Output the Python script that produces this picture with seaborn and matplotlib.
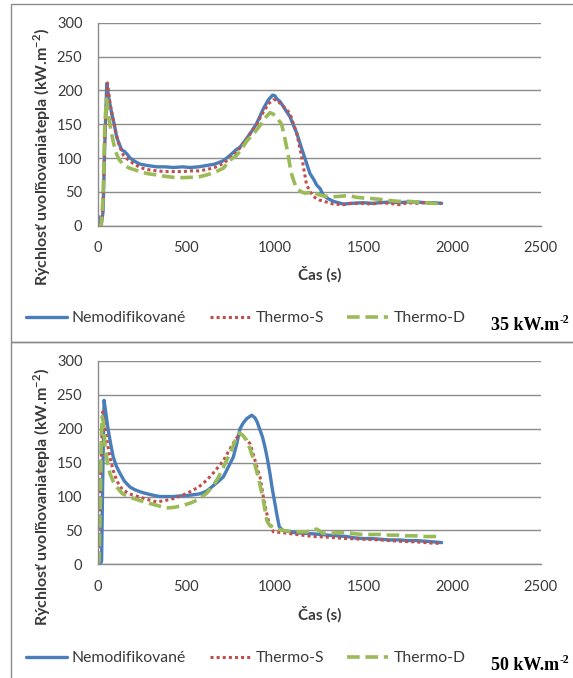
import numpy as np
import pandas as pd
import matplotlib
matplotlib.use("Agg")
import matplotlib.pyplot as plt
from matplotlib.patches import Rectangle
import seaborn as sns

# ---------------- data ----------------
series_names = ["Nemodifikované", "Thermo-S", "Thermo-D"]
panel_titles = ["35 kW.m", "50 kW.m"]
title_sup = "-2"
x_ticks = [0, 500, 1000, 1500, 2000, 2500]
y_ticks = [0, 50, 100, 150, 200, 250, 300]

# 35 kW.m-2
nemod35_t = [0, 10, 20, 30, 40, 51, 65, 79, 95, 107, 120, 135, 150, 165, 183, 210, 239, 280, 333, 380,
             427, 480, 521, 570, 615, 660, 709, 747, 780, 803, 841, 870, 897, 935, 963, 987, 1000, 1010,
             1030, 1048, 1085, 1123, 1160, 1198, 1220, 1236, 1255, 1273, 1300, 1330, 1386, 1430, 1498,
             1550, 1593, 1650, 1700, 1750, 1800, 1850, 1900, 1941]
nemod35_v = [15, 10, 2, 20, 120, 210, 185, 166, 148, 131, 122, 112, 110, 106, 100, 95, 91, 89, 87, 87,
             86, 87, 86, 87, 89, 91, 96, 104, 112, 116, 129, 140, 151, 173, 186, 193, 192, 188,
             183, 176, 161, 137, 107, 77, 68, 60, 55, 45, 40, 36, 32, 33, 34,
             33, 34, 35, 34, 35, 35, 34, 34, 33]
thermoS35_t = [0, 20, 30, 40, 55, 70, 85, 100, 120, 145, 170, 200, 239, 280, 333, 380, 427, 480, 521, 570,
               615, 660, 709, 747, 780, 803, 841, 870, 897, 935, 963, 990, 1010, 1048, 1085, 1104, 1123,
               1151, 1179, 1200, 1217, 1250, 1290, 1330, 1386, 1430, 1498, 1550, 1593, 1650, 1700, 1750,
               1800, 1850, 1900, 1941]
thermoS35_v = [5, 0, 30, 130, 211, 180, 160, 140, 120, 104, 98, 92, 86, 83, 81, 80, 80, 80, 81, 81,
               83, 86, 92, 100, 108, 115, 128, 140, 150, 168, 180, 186, 186, 176, 166, 151, 137,
               102, 60, 50, 43, 38, 35, 32, 31, 33, 33, 32, 34, 33, 31, 34,
               33, 34, 33, 33]
thermoD35_t = [0, 20, 30, 40, 50, 60, 75, 88, 100, 120, 145, 180, 239, 280, 333, 380, 427, 480, 521, 570,
               615, 660, 709, 747, 784, 803, 841, 880, 916, 954, 972, 990, 1010, 1038, 1057, 1076, 1090,
               1104, 1118, 1132, 1150, 1170, 1195, 1217, 1245, 1273, 1310, 1348, 1390, 1424, 1460, 1498,
               1550, 1593, 1650, 1700, 1750, 1800, 1850, 1900, 1941]
thermoD35_v = [0, 0, 40, 150, 187, 165, 140, 124, 110, 98, 90, 85, 80, 77, 75, 73, 71.5, 71, 71.5, 72,
               75, 79, 85, 97, 104, 110, 125, 136, 148, 162, 167, 165, 160, 150, 128, 103, 80,
               68, 58, 53, 50, 48, 49, 50, 46, 44, 43, 43, 44, 44, 42, 41,
               40, 39, 37, 36, 36, 35, 34, 33, 33]

# 50 kW.m-2
nemod50_t = [0, 15, 22, 28, 36, 45, 60, 75, 88, 105, 126, 150, 182, 210, 239, 265, 295, 330, 352, 390,
             427, 470, 521, 577, 615, 652, 680, 709, 740, 765, 785, 803, 820, 841, 869, 888, 900, 916,
             930, 944, 958, 972, 986, 1000, 1012, 1025, 1045, 1066, 1100, 1150, 1217, 1300, 1350, 1405,
             1450, 1500, 1550, 1593, 1650, 1700, 1750, 1800, 1850, 1900, 1941]
nemod50_v = [0, 0, 5, 120, 242, 225, 197, 175, 158, 145, 134, 123, 114, 110, 107, 105, 103, 101, 100, 100,
             100, 101, 102, 104, 108, 116, 122, 129, 145, 158, 178, 200, 208, 215, 220, 216, 210, 198,
             188, 173, 155, 134, 110, 90, 72, 55, 50, 49, 47, 46, 45, 43, 42, 41,
             39, 38, 38, 37, 36, 36, 35, 35, 34, 33, 32]
thermoS50_t = [0, 5, 15, 28, 40, 55, 69, 88, 107, 125, 145, 190, 239, 290, 333, 380, 427, 470, 521, 570,
               615, 660, 709, 750, 780, 803, 830, 860, 875, 888, 902, 916, 925, 935, 950, 963, 978, 991,
               1030, 1066, 1120, 1217, 1300, 1405, 1500, 1593, 1700, 1800, 1900, 1941]
thermoS50_v = [15, 20, 120, 225, 205, 178, 158, 138, 124, 115, 109, 103, 99, 95, 92, 94, 97, 101, 107, 114,
               124, 137, 153, 172, 185, 193, 186, 178, 165, 153, 140, 129, 115, 99, 80, 65, 55, 48,
               47, 46, 44, 41, 40, 38, 37, 36, 34, 33, 31, 31]
thermoD50_t = [0, 8, 14, 20, 25, 32, 42, 55, 69, 88, 107, 140, 182, 239, 290, 333, 389, 430, 483, 530,
               577, 615, 652, 680, 709, 740, 765, 784, 800, 820, 841, 860, 878, 892, 906, 920, 935, 954,
               968, 982, 1010, 1066, 1120, 1180, 1236, 1270, 1320, 1405, 1450, 1500, 1593, 1650, 1700,
               1750, 1800, 1850, 1900, 1941]
thermoD50_v = [0, 5, 80, 180, 218, 210, 173, 150, 134, 122, 114, 104, 99, 94, 90, 87, 83, 84, 87, 91,
               97, 105, 116, 128, 143, 160, 175, 188, 194, 190, 183, 170, 156, 142, 129, 112, 94, 65,
               58, 56, 52, 49, 48, 48, 52, 46, 46, 47, 45, 44, 44, 43, 43,
               42, 42, 41, 41, 42]

# ---------------- styling ----------------
sns.set_theme(style="white")
plt.rcParams["font.family"] = ["Lato", "DejaVu Sans"]

W, H = 573, 678
fig = plt.figure(figsize=(W / 100, H / 100), dpi=100)

colors = ["#4A7EBB", "#C0504D", "#9BBB59"]
widths = [2.4, 2.2, 2.6]
styles = ["-", (0, (1, 1)), (0, (3.5, 1.6))]
txt_col = "#3A3A3A"
grid_col = "#8C8C8C"

panels = [
    [(nemod35_t, nemod35_v), (thermoS35_t, thermoS35_v), (thermoD35_t, thermoD35_v)],
    [(nemod50_t, nemod50_v), (thermoS50_t, thermoS50_v), (thermoD50_t, thermoD50_v)],
]

# pixel geometry of panels
ax_left_px, ax_right_px = 97.7, 540.7
ax_tops = [22.7, 361.0]
ax_bots = [225.7, 564.3]
ylabel_centers = [157, 497]
xlabel_y = [274, 614]
legend_y = [318, 658]
title_y = [326, 666]
box_ranges = [(4, 342), (342, 682)]

def fx(px):
    return px / W

def fy(py):
    return 1 - py / H

for i, panel in enumerate(panels):
    # panel frame
    y0, y1 = box_ranges[i]
    fig.add_artist(Rectangle((fx(11), fy(y1)), fx(600 - 11), (y1 - y0) / H,
                             transform=fig.transFigure, fill=False,
                             edgecolor="#8A8A8A", linewidth=1.0, zorder=0))

    ax = fig.add_axes([fx(ax_left_px), fy(ax_bots[i]),
                       (ax_right_px - ax_left_px) / W, (ax_bots[i] - ax_tops[i]) / H])
    ax.set_facecolor("none")
    for name, (t, v), c, lw, ls in zip(series_names, panel, colors, widths, styles):
        df = pd.DataFrame({"t": t, "v": v})
        sns.lineplot(data=df, x="t", y="v", ax=ax, color=c, linewidth=lw,
                     linestyle=ls, label=name, estimator=None, sort=False,
                     legend=False)
    for ln in ax.get_lines():
        ln.set_dash_capstyle("butt")
        ln.set_solid_capstyle("round")

    ax.set_xlim(0, 2500)
    ax.set_ylim(0, 300)
    ax.set_xticks(x_ticks)
    ax.set_yticks(y_ticks)
    ax.set_xticklabels([str(x) for x in x_ticks])
    ax.set_yticklabels([str(y) for y in y_ticks])
    ax.yaxis.grid(True, color=grid_col, linewidth=1.0)
    ax.xaxis.grid(False)
    ax.set_axisbelow(True)
    for s in ["top", "right"]:
        ax.spines[s].set_visible(False)
    for s in ["left", "bottom"]:
        ax.spines[s].set_color(grid_col)
        ax.spines[s].set_linewidth(1.0)
    ax.tick_params(axis="both", which="major", direction="out", length=5,
                   width=1.0, color=grid_col, labelsize=10.5, labelcolor=txt_col)
    ax.tick_params(axis="x", pad=6)
    ax.tick_params(axis="y", pad=6)
    ax.set_xlabel("")
    ax.set_ylabel("")

    fig.text(fx(42), fy(ylabel_centers[i]),
             "Rýchlosť uvoľňovaniatepla (kW.m$^{\\mathregular{-2}}$)",
             rotation=90, ha="center", va="center", fontsize=11.5,
             fontweight="bold", color=txt_col)
    fig.text(fx(320), fy(xlabel_y[i]), "Čas (s)", ha="center", va="center",
             fontsize=11, fontweight="bold", color=txt_col)

    handles = ax.get_lines()[:3]
    fig.legend(handles, series_names, loc="center left",
               bbox_to_anchor=(fx(26), fy(legend_y[i])), bbox_transform=fig.transFigure,
               ncol=3, frameon=False, fontsize=11.3, handlelength=2.6,
               handletextpad=0.32, columnspacing=1.5, borderpad=0, borderaxespad=0,
               labelcolor=txt_col)

    fig.text(fx(559), fy(title_y[i]), panel_titles[i], ha="right", va="center",
             fontsize=13, fontweight="bold", family="Liberation Serif", color="#000000")
    fig.text(fx(559.5), fy(title_y[i] - 6), title_sup, ha="left", va="center",
             fontsize=8.5, fontweight="bold", family="Liberation Serif", color="#000000")

fig.savefig("out.png", dpi=100)
